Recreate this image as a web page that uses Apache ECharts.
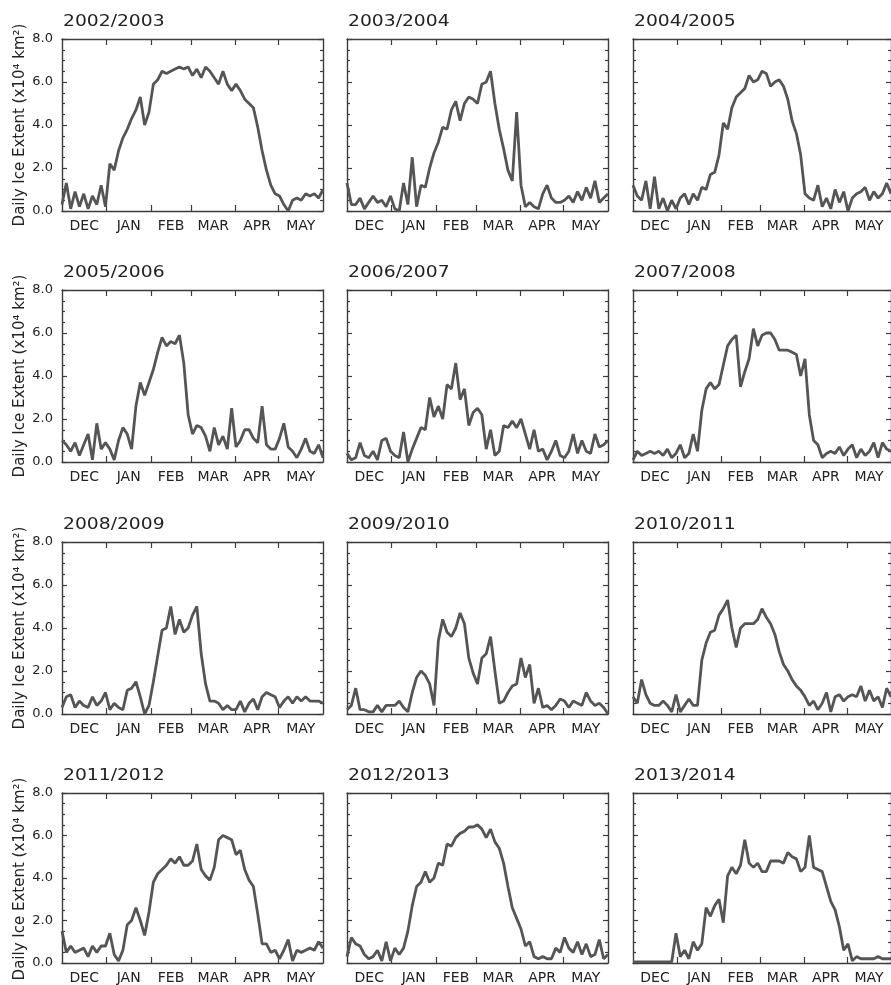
<!DOCTYPE html>
<html>
<head>
<meta charset="utf-8">
<title>Daily Ice Extent</title>
<script src="https://cdn.jsdelivr.net/npm/echarts@6/dist/echarts.min.js"></script>
<style>
  html, body { margin: 0; padding: 0; background: #fff; }
  #chart { width: 891px; height: 985px; }
</style>
</head>
<body>
<div id="chart"></div>
<script>
// seasons, month axis and tick labels
const seasons = ['2002/2003', '2003/2004', '2004/2005', '2005/2006', '2006/2007', '2007/2008',
  '2008/2009', '2009/2010', '2010/2011', '2011/2012', '2012/2013', '2013/2014'];
const months = ['DEC', 'JAN', 'FEB', 'MAR', 'APR', 'MAY'];
const monthDays = [31, 31, 28, 31, 30, 31];
const yTicks = [0, 2, 4, 6, 8];

// ice extent (x10^4 km2), one reading every ~3 days from 1 Dec to 31 May
const ice0203 = [0.3, 1.3, 0.1, 0.9, 0.2, 0.8, 0.1, 0.7, 0.3, 1.2,
  0.2, 2.2, 1.9, 2.8, 3.4, 3.8, 4.3, 4.7, 5.3, 4.0,
  4.6, 5.9, 6.1, 6.5, 6.4, 6.5, 6.6, 6.7, 6.6, 6.7,
  6.3, 6.6, 6.2, 6.7, 6.5, 6.2, 5.9, 6.5, 5.9, 5.6,
  5.9, 5.6, 5.2, 5.0, 4.8, 3.9, 2.8, 1.9, 1.2, 0.8,
  0.7, 0.3, 0.0, 0.5, 0.6, 0.5, 0.8, 0.7, 0.8, 0.6, 1.0];
const ice0304 = [1.3, 0.3, 0.3, 0.6, 0.1, 0.4, 0.7, 0.4, 0.5, 0.2,
  0.7, 0.1, 0.0, 1.3, 0.3, 2.5, 0.2, 1.2, 1.1, 2.0,
  2.7, 3.2, 3.9, 3.8, 4.7, 5.1, 4.2, 5.0, 5.3, 5.2,
  5.0, 5.9, 6.0, 6.5, 5.0, 3.8, 2.9, 1.9, 1.4, 4.6,
  1.2, 0.2, 0.4, 0.2, 0.1, 0.8, 1.2, 0.6, 0.4, 0.4,
  0.5, 0.7, 0.4, 0.9, 0.5, 1.1, 0.6, 1.4, 0.4, 0.6, 0.8];
const ice0405 = [1.2, 0.7, 0.5, 1.4, 0.1, 1.6, 0.1, 0.6, 0.0, 0.5,
  0.1, 0.6, 0.8, 0.3, 0.8, 0.5, 1.1, 1.0, 1.7, 1.8,
  2.6, 4.1, 3.8, 4.8, 5.3, 5.5, 5.7, 6.3, 6.0, 6.1,
  6.5, 6.4, 5.8, 6.0, 6.1, 5.8, 5.2, 4.2, 3.6, 2.6,
  0.8, 0.6, 0.5, 1.2, 0.2, 0.6, 0.1, 1.0, 0.4, 0.9,
  0.0, 0.6, 0.8, 0.9, 1.1, 0.5, 0.9, 0.6, 0.8, 1.3, 0.8];
const ice0506 = [1.0, 0.8, 0.5, 0.9, 0.3, 0.8, 1.3, 0.1, 1.8, 0.6,
  0.9, 0.6, 0.1, 1.0, 1.6, 1.3, 0.6, 2.6, 3.7, 3.1,
  3.7, 4.3, 5.1, 5.8, 5.4, 5.6, 5.5, 5.9, 4.6, 2.2,
  1.3, 1.7, 1.6, 1.2, 0.5, 1.6, 0.8, 1.2, 0.6, 2.5,
  0.7, 1.0, 1.5, 1.5, 1.1, 0.9, 2.6, 0.8, 0.6, 0.6,
  1.1, 1.8, 0.7, 0.5, 0.2, 0.6, 1.1, 0.5, 0.4, 0.8, 0.2];
const ice0607 = [0.4, 0.1, 0.2, 0.9, 0.3, 0.2, 0.5, 0.1, 1.0, 1.1,
  0.5, 0.3, 0.2, 1.4, 0.0, 0.6, 1.1, 1.6, 1.5, 3.0,
  2.1, 2.6, 2.0, 3.6, 3.4, 4.6, 2.9, 3.4, 1.7, 2.3,
  2.5, 2.2, 0.6, 1.5, 0.3, 0.5, 1.7, 1.6, 1.9, 1.6,
  2.0, 1.3, 0.6, 1.5, 0.5, 0.6, 0.1, 0.5, 1.0, 0.3,
  0.2, 0.5, 1.3, 0.4, 1.0, 0.5, 0.4, 1.3, 0.7, 0.8, 1.0];
const ice0708 = [0.1, 0.5, 0.3, 0.4, 0.5, 0.4, 0.5, 0.3, 0.6, 0.2,
  0.4, 0.8, 0.2, 0.4, 1.3, 0.5, 2.4, 3.4, 3.7, 3.4,
  3.6, 4.5, 5.4, 5.7, 5.9, 3.5, 4.2, 4.8, 6.2, 5.4,
  5.9, 6.0, 6.0, 5.7, 5.2, 5.2, 5.2, 5.1, 5.0, 4.0,
  4.8, 2.2, 1.0, 0.8, 0.2, 0.4, 0.5, 0.4, 0.7, 0.3,
  0.6, 0.8, 0.2, 0.6, 0.3, 0.5, 0.9, 0.2, 0.9, 0.6, 0.5];
const ice0809 = [0.3, 0.8, 0.9, 0.3, 0.6, 0.4, 0.3, 0.8, 0.4, 0.6,
  1.0, 0.2, 0.5, 0.3, 0.2, 1.1, 1.2, 1.5, 0.8, 0.0,
  0.4, 1.5, 2.7, 3.9, 4.0, 5.0, 3.7, 4.4, 3.8, 4.0,
  4.6, 5.0, 2.8, 1.4, 0.6, 0.6, 0.5, 0.2, 0.4, 0.2,
  0.2, 0.6, 0.1, 0.5, 0.7, 0.2, 0.8, 1.0, 0.9, 0.8,
  0.3, 0.6, 0.8, 0.5, 0.8, 0.6, 0.8, 0.6, 0.6, 0.6, 0.5];
const ice0910 = [0.2, 0.4, 1.2, 0.2, 0.2, 0.1, 0.1, 0.4, 0.1, 0.4,
  0.4, 0.4, 0.6, 0.3, 0.1, 1.0, 1.7, 2.0, 1.8, 1.4,
  0.4, 3.4, 4.4, 3.8, 3.6, 4.0, 4.7, 4.2, 2.6, 1.9,
  1.4, 2.6, 2.8, 3.6, 2.0, 0.5, 0.6, 1.0, 1.3, 1.4,
  2.6, 1.7, 2.3, 0.5, 1.2, 0.3, 0.4, 0.2, 0.4, 0.7,
  0.6, 0.3, 0.6, 0.5, 0.4, 1.0, 0.6, 0.4, 0.5, 0.3, 0.0];
const ice1011 = [0.8, 0.5, 1.6, 0.9, 0.5, 0.4, 0.4, 0.6, 0.4, 0.1,
  0.9, 0.1, 0.4, 0.7, 0.4, 0.4, 2.5, 3.3, 3.8, 3.9,
  4.6, 4.9, 5.3, 4.0, 3.1, 4.0, 4.2, 4.2, 4.2, 4.4,
  4.9, 4.5, 4.2, 3.7, 2.9, 2.3, 2.0, 1.6, 1.3, 1.1,
  0.8, 0.4, 0.6, 0.2, 0.5, 1.0, 0.1, 0.8, 0.9, 0.6,
  0.8, 0.9, 0.8, 1.3, 0.6, 1.1, 0.6, 0.8, 0.3, 1.2, 0.8];
const ice1112 = [1.5, 0.5, 0.8, 0.5, 0.6, 0.7, 0.3, 0.8, 0.5, 0.8,
  0.8, 1.4, 0.4, 0.1, 0.6, 1.8, 2.0, 2.6, 2.0, 1.3,
  2.4, 3.8, 4.2, 4.4, 4.6, 4.9, 4.7, 5.0, 4.6, 4.6,
  4.8, 5.6, 4.4, 4.1, 3.9, 4.5, 5.8, 6.0, 5.9, 5.8,
  5.1, 5.3, 4.4, 3.9, 3.6, 2.3, 0.9, 0.9, 0.5, 0.6,
  0.2, 0.6, 1.1, 0.1, 0.6, 0.5, 0.6, 0.7, 0.6, 1.0, 0.7];
const ice1213 = [0.3, 1.2, 0.9, 0.8, 0.4, 0.2, 0.3, 0.6, 0.1, 1.0,
  0.1, 0.7, 0.4, 0.7, 1.5, 2.7, 3.6, 3.8, 4.3, 3.8,
  4.0, 4.7, 4.6, 5.6, 5.5, 5.9, 6.1, 6.2, 6.4, 6.4,
  6.5, 6.3, 5.9, 6.3, 5.7, 5.4, 4.7, 3.6, 2.6, 2.1,
  1.6, 0.8, 1.0, 0.3, 0.2, 0.3, 0.2, 0.2, 0.7, 0.5,
  1.2, 0.7, 0.5, 1.0, 0.4, 0.9, 0.3, 0.4, 1.1, 0.2, 0.4];
const ice1314 = [0.05, 0.05, 0.05, 0.05, 0.05, 0.05, 0.05, 0.05, 0.05, 0.05,
  1.4, 0.3, 0.6, 0.2, 1.0, 0.6, 0.9, 2.6, 2.2, 2.7,
  3.0, 1.9, 4.1, 4.5, 4.2, 4.6, 5.8, 4.7, 4.5, 4.7,
  4.3, 4.3, 4.8, 4.8, 4.8, 4.7, 5.2, 5.0, 4.9, 4.3,
  4.5, 6.0, 4.5, 4.4, 4.3, 3.6, 2.9, 2.5, 1.7, 0.6,
  0.9, 0.1, 0.3, 0.2, 0.2, 0.2, 0.2, 0.3, 0.2, 0.2, 0.2];

const seasonValues = [ice0203, ice0304, ice0405, ice0506, ice0607, ice0708,
  ice0809, ice0910, ice1011, ice1112, ice1213, ice1314];

const FONT = '"DejaVu Sans", "Liberation Sans", sans-serif';
const INK = '#222';
const FRAME = '#3c3c3c';
const LINE = '#555';
const colLeft = [62, 347, 633];
const rowTop = [39, 290, 542, 793];
const plotW = 261;
const plotH = 172;

// month boundaries (ticks) and month centres (labels), in days from 1 Dec
const totalDays = monthDays.reduce((a, b) => a + b, 0);
const bounds = [];
const mids = [];
let acc = 0;
monthDays.forEach((d, i) => {
  mids.push(acc + d / 2);
  acc += d;
  if (i < monthDays.length - 1) bounds.push(acc);
});
const monthName = (v) => {
  const i = mids.findIndex((m) => Math.abs(m - v) < 0.01);
  return i >= 0 ? months[i] : '';
};

const grid = [];
const xAxis = [];
const yAxis = [];
const series = [];
const graphic = [];

seasons.forEach((name, k) => {
  const row = Math.floor(k / 3);
  const col = k % 3;
  const left = colLeft[col];
  const top = rowTop[row];
  grid.push({ left, top, width: plotW, height: plotH });

  const frameLine = { show: true, onZero: false, lineStyle: { color: FRAME, width: 1.4 } };
  const tickStyle = { color: FRAME, width: 1.2 };

  const xBase = {
    gridIndex: k,
    type: 'value',
    min: 0,
    max: totalDays,
    splitLine: { show: false },
    axisLine: frameLine,
    axisTick: { show: true, inside: true, length: 6, customValues: bounds, lineStyle: tickStyle }
  };
  xAxis.push({
    ...xBase,
    position: 'bottom',
    axisLabel: {
      show: true,
      customValues: mids,
      formatter: monthName,
      margin: 8,
      color: INK,
      fontFamily: FONT,
      fontSize: 14
    }
  });
  xAxis.push({ ...xBase, position: 'top', axisLabel: { show: false } });

  const yBase = {
    gridIndex: k,
    type: 'value',
    min: yTicks[0],
    max: yTicks[yTicks.length - 1],
    interval: yTicks[1] - yTicks[0],
    splitLine: { show: false },
    axisLine: frameLine,
    axisTick: { show: true, inside: true, length: 5, lineStyle: tickStyle },
    minorTick: { show: true, splitNumber: 4, length: 3, lineStyle: tickStyle }
  };
  yAxis.push({
    ...yBase,
    position: 'left',
    axisLabel: {
      show: col === 0,
      formatter: (v) => v.toFixed(1),
      margin: 9,
      color: INK,
      fontFamily: FONT,
      fontSize: 13
    }
  });
  yAxis.push({ ...yBase, position: 'right', axisLabel: { show: false } });

  const vals = seasonValues[k];
  series.push({
    type: 'line',
    xAxisIndex: 2 * k,
    yAxisIndex: 2 * k,
    data: vals.map((v, i) => [(i * totalDays) / (vals.length - 1), v]),
    showSymbol: false,
    clip: false,
    silent: true,
    lineStyle: { color: LINE, width: 2.8 }
  });

  graphic.push({
    type: 'text',
    x: left + 1,
    y: top - 17,
    scaleX: 1.17,
    style: {
      text: name,
      font: '16px ' + FONT,
      fill: INK,
      align: 'left',
      verticalAlign: 'middle'
    }
  });

  if (col === 0) {
    graphic.push({
      type: 'text',
      x: 20,
      y: top + plotH / 2,
      rotation: Math.PI / 2,
      style: {
        text: 'Daily Ice Extent (x10⁴ km²)',
        font: '15px ' + FONT,
        fill: INK,
        align: 'center',
        verticalAlign: 'middle'
      }
    });
  }
});

const chart = echarts.init(document.getElementById('chart'));
chart.setOption({
  animation: false,
  backgroundColor: '#fff',
  grid,
  xAxis,
  yAxis,
  series,
  graphic
});
</script>
</body>
</html>
